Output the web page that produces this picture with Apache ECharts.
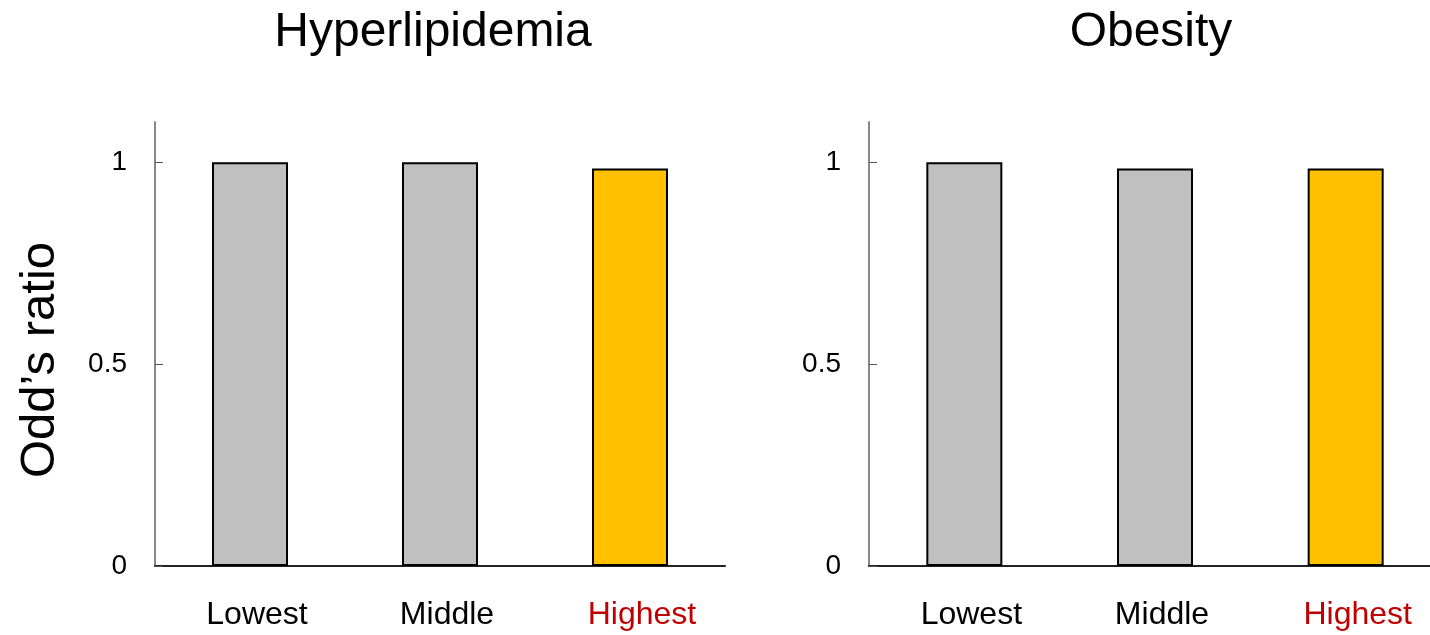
<!DOCTYPE html>
<html>
<head>
<meta charset="utf-8">
<script src="https://cdn.jsdelivr.net/npm/echarts@6/dist/echarts.min.js"></script>
<style>html,body{margin:0;padding:0;background:#fff;overflow:hidden}#c{width:1442px;height:635px}</style>
</head>
<body>
<div id="c"></div>
<script>
const categories = ['Lowest', 'Middle', 'Highest'];
const hyperlipidemia = [1.0, 1.0, 0.985];
const obesity = [1.0, 0.985, 0.985];
const panelTitles = ['Hyperlipidemia', 'Obesity'];
const yTicks = [0, 0.5, 1];
const yLabel = 'Odd\u2019s ratio';

const barColors = ['#C0C0C0', '#C0C0C0', '#FFC000'];
const FONT = '"Liberation Sans", Arial, sans-serif';

function xAxis(i) {
  return {
    type: 'category', gridIndex: i, data: categories,
    axisLine: { lineStyle: { color: '#222', width: 2 } },
    axisTick: { inside: true, length: 8, lineStyle: { color: '#222', width: 1 } },
    axisLabel: {
      interval: 0, hideOverlap: false,
      margin: 33, fontSize: 32, fontFamily: FONT,
      formatter: (v, idx) => (idx === 2 ? '{h|' + v + '}' : '{n|' + v + '}'),
      rich: {
        n: { fontSize: 32, fontFamily: FONT, color: '#000', padding: [0, 0, 0, 14] },
        h: { fontSize: 32, fontFamily: FONT, color: '#C00000', padding: [0, 0, 0, 24] }
      }
    }
  };
}
function yAxis(i) {
  return {
    type: 'value', gridIndex: i, min: 0, max: 1.1, interval: 0.5,
    axisLine: { show: true, lineStyle: { color: '#888', width: 2 } },
    axisTick: { show: true, inside: true, length: 8, lineStyle: { color: '#555', width: 1 },
      customValues: yTicks },
    axisLabel: { margin: 28, fontSize: 28, fontFamily: FONT, color: '#000',
      customValues: yTicks, formatter: v => String(v) },
    splitLine: { show: false }
  };
}
function series(i, data) {
  return {
    type: 'bar', xAxisIndex: i, yAxisIndex: i, barWidth: 76,
    data: data.map((v, k) => ({ value: v, itemStyle: { color: barColors[k] } })),
    itemStyle: { borderColor: '#000', borderWidth: 2 },
    silent: true
  };
}

const chart = echarts.init(document.getElementById('c'), null, { renderer: 'canvas' });
chart.setOption({
  animation: false,
  backgroundColor: '#fff',
  title: [
    { text: panelTitles[0], left: 428, top: 4, textAlign: 'center',
      textStyle: { fontSize: 48, fontWeight: 'normal', fontFamily: FONT, color: '#000' } },
    { text: panelTitles[1], left: 1146, top: 4, textAlign: 'center',
      textStyle: { fontSize: 48, fontWeight: 'normal', fontFamily: FONT, color: '#000' } }
  ],
  grid: [
    { left: 155, top: 122, width: 570, bottom: 69 },
    { left: 869, top: 122, width: 572, bottom: 69 }
  ],
  xAxis: [xAxis(0), xAxis(1)],
  yAxis: [yAxis(0), yAxis(1)],
  series: [series(0, hyperlipidemia), series(1, obesity)],
  graphic: [{
    type: 'text', x: 40, y: 360, rotation: Math.PI / 2,
    style: { text: yLabel, fontSize: 49, fontFamily: FONT, fill: '#000',
      align: 'center', verticalAlign: 'middle' }
  }]
});
</script>
</body>
</html>
